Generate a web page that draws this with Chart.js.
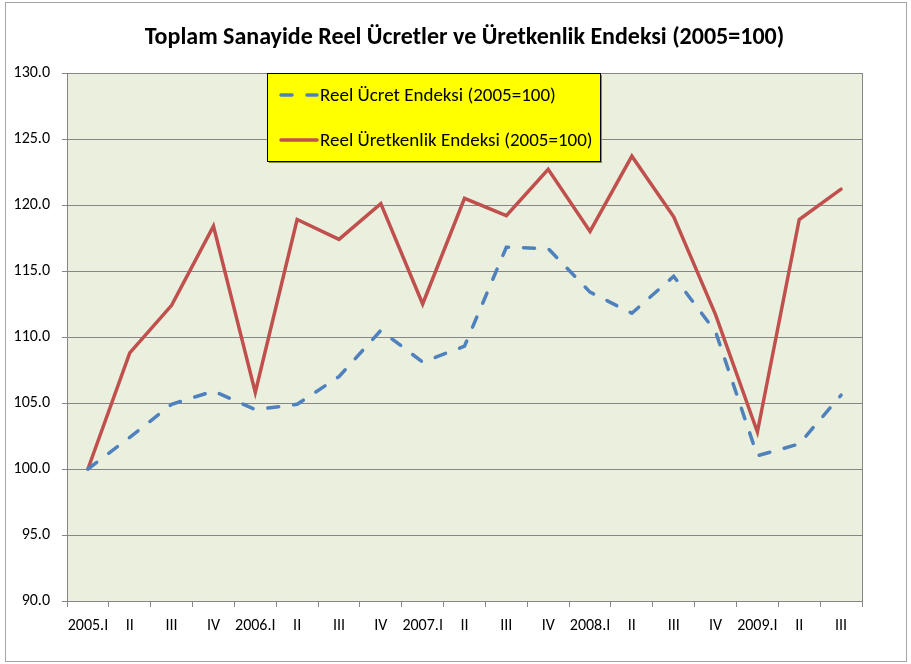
<!DOCTYPE html>
<html>
<head>
<meta charset="utf-8">
<script src="https://cdn.jsdelivr.net/npm/chart.js@4/dist/chart.umd.min.js"></script>
<style>
  html, body { margin: 0; padding: 0; background: #fff; }
  #wrap { width: 911px; height: 664px; }
</style>
</head>
<body>
<div id="wrap"><canvas id="chart" width="911" height="664"></canvas></div>
<script>
// --- data ---
const categories = ['2005.I', 'II', 'III', 'IV', '2006.I', 'II', 'III', 'IV', '2007.I', 'II', 'III', 'IV',
  '2008.I', 'II', 'III', 'IV', '2009.I', 'II', 'III'];
const wageIndex = [100.0, 102.4, 104.9, 105.9, 104.5, 104.9, 107.0, 110.5, 108.1, 109.3, 116.8, 116.7,
  113.4, 111.8, 114.6, 110.4, 101.0, 101.9, 105.6];
const productivityIndex = [100.0, 108.8, 112.4, 118.4, 105.8, 118.9, 117.4, 120.1, 112.5, 120.5, 119.2, 122.7,
  118.0, 123.7, 119.1, 111.7, 102.8, 118.9, 121.2];
const yTicks = [90, 95, 100, 105, 110, 115, 120, 125, 130];
const titleText = 'Toplam Sanayide Reel Ücretler ve Üretkenlik Endeksi (2005=100)';

const FONT = 'Carlito, Lato, "Open Sans", sans-serif';
const GRID = '#868686';

// plot background, outer frame, title, right edge of plot
const framePlugin = {
  id: 'frame',
  beforeDraw(chart) {
    const c = chart.ctx, a = chart.chartArea;
    c.save();
    c.fillStyle = '#fff';
    c.fillRect(0, 0, chart.width, chart.height);
    c.strokeStyle = '#a6a6a6';
    c.lineWidth = 1;
    c.strokeRect(5.5, 2.5, 901, 659);
    c.fillStyle = '#ebf0de';
    c.fillRect(a.left, a.top, a.right - a.left, a.bottom - a.top);
    c.fillStyle = '#000';
    c.font = 'bold 24px ' + FONT;
    c.textAlign = 'center';
    c.textBaseline = 'middle';
    c.fillText(titleText, (a.left + a.right) / 2, 38);
    c.restore();
  },
  afterDraw(chart) {
    const c = chart.ctx, a = chart.chartArea;
    c.save();
    c.strokeStyle = GRID;
    c.lineWidth = 1;
    c.beginPath();
    c.moveTo(Math.round(a.right) + 0.5, a.top);
    c.lineTo(Math.round(a.right) + 0.5, a.bottom);
    c.stroke();
    c.restore();
  }
};

// yellow boxed legend inside the plot
const boxLegend = {
  id: 'boxLegend',
  afterDraw(chart) {
    const c = chart.ctx;
    const x = 267, y = 73, w = 333, h = 88;
    c.save();
    c.fillStyle = '#8c8c5a';
    c.fillRect(x + 2, y + 2, w, h);
    c.fillStyle = '#ffff00';
    c.fillRect(x, y, w, h);
    c.strokeStyle = '#000';
    c.lineWidth = 1;
    c.strokeRect(x + 0.5, y + 0.5, w, h);
    chart.data.datasets.forEach(function (ds, i) {
      const ly = y + 22 + i * 45;
      c.strokeStyle = ds.borderColor;
      c.lineWidth = ds.borderWidth;
      c.lineCap = 'round';
      c.setLineDash(ds.borderDash || []);
      c.beginPath();
      c.moveTo(x + 14, ly);
      c.lineTo(x + 50, ly);
      c.stroke();
      c.setLineDash([]);
      c.fillStyle = '#000';
      c.font = '19px ' + FONT;
      c.textBaseline = 'middle';
      c.fillText(ds.label, x + 53, ly + 1);
    });
    c.restore();
  }
};

new Chart(document.getElementById('chart'), {
  type: 'line',
  data: {
    labels: categories,
    datasets: [{
      label: 'Reel Ücret Endeksi (2005=100)',
      data: wageIndex,
      borderColor: '#4f81bd',
      borderWidth: 3.5,
      borderDash: [11, 15],
      borderCapStyle: 'round',
      pointRadius: 0,
      tension: 0,
      fill: false
    }, {
      label: 'Reel Üretkenlik Endeksi (2005=100)',
      data: productivityIndex,
      borderColor: '#c0504d',
      borderWidth: 3.5,
      borderCapStyle: 'round',
      pointRadius: 0,
      tension: 0,
      fill: false
    }]
  },
  options: {
    responsive: false,
    animation: false,
    layout: { padding: { left: 5, right: 49, top: 73, bottom: 3 } },
    plugins: {
      legend: { display: false },
      tooltip: { enabled: false },
      title: { display: false }
    },
    scales: {
      x: {
        offset: true,
        grid: { display: true, drawOnChartArea: false, color: GRID, tickLength: 6, offset: true },
        border: { color: GRID },
        ticks: { color: '#000', font: { family: FONT, size: 16 }, padding: 9, maxRotation: 0, autoSkip: false },
        afterFit(s) { s.height = 60; }
      },
      y: {
        min: 90,
        max: 130,
        afterBuildTicks(s) { s.ticks = yTicks.map(v => ({ value: v })); },
        grid: { color: GRID, tickLength: 5 },
        border: { color: GRID },
        ticks: {
          color: '#000',
          font: { family: FONT, size: 16 },
          padding: 12,
          callback: v => Number(v).toFixed(1)
        },
        afterFit(s) { s.width = 62; }
      }
    }
  },
  plugins: [framePlugin, boxLegend]
});
</script>
</body>
</html>
